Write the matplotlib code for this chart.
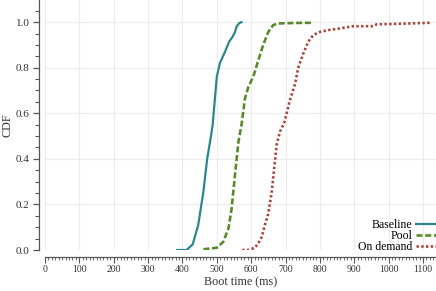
import numpy as np
import matplotlib
matplotlib.use('Agg')
import matplotlib.pyplot as plt
from matplotlib.ticker import MultipleLocator

# boot time (ms) vs CDF
baseline_ms = [385, 412, 430, 446, 461, 472, 482, 488, 500, 509, 524, 536, 546, 553, 558, 565, 572]
baseline_cdf = [0.0, 0.0, 0.025, 0.11, 0.256, 0.40, 0.49, 0.55, 0.76, 0.82, 0.87, 0.914, 0.936, 0.957, 0.982, 0.995, 1.0]

pool_ms = [461, 500, 519, 534, 543, 553, 563, 572, 582, 592, 606, 621, 635, 650, 664, 679, 720, 776]
pool_cdf = [0.003, 0.01, 0.036, 0.095, 0.18, 0.33, 0.475, 0.55, 0.665, 0.716, 0.76, 0.833, 0.90, 0.957, 0.987, 0.994, 0.996, 0.997]

demand_ms = [574, 592, 611, 621, 631, 640, 650, 660, 667, 674, 684, 696, 713, 728, 737, 752, 766,
             781, 800, 825, 849, 897, 955, 965, 1040, 1120]
demand_cdf = [0.0, 0.0, 0.01, 0.03, 0.058, 0.11, 0.16, 0.256, 0.358, 0.46, 0.52, 0.557, 0.658, 0.73, 0.80,
              0.863, 0.914, 0.943, 0.957, 0.965, 0.97, 0.982, 0.982, 0.99, 0.993, 0.997]

y_ticks = [0.0, 0.2, 0.4, 0.6, 0.8, 1.0]

plt.rcParams['font.family'] = ['Liberation Serif', 'DejaVu Serif']

fig = plt.figure(figsize=(4.36, 2.91), dpi=100)
ax = fig.add_axes([45 / 436, 41 / 291, 391 / 436, 250 / 291])

ax.plot(baseline_ms, baseline_cdf, color='#2b878d', lw=1.6, label='Baseline')
ax.plot(pool_ms, pool_cdf, color='#5b8a2b', lw=1.9, ls=(0, (2.3, 1.0)), label='Pool')
ax.plot(demand_ms, demand_cdf, color='#a8443a', lw=1.9, ls=(0, (0.9, 0.9)), label='On demand')

ax.set_xlim(0, 1138)
ax.set_ylim(0, 1.097)
ax.xaxis.set_major_locator(MultipleLocator(100))
ax.xaxis.set_minor_locator(MultipleLocator(10))
ax.yaxis.set_minor_locator(MultipleLocator(0.05))
ax.set_yticks(y_ticks)
ax.set_yticklabels(['%.1f' % v for v in y_ticks])

ax.grid(True, which='major', color='#ececec', lw=0.8)
ax.set_axisbelow(True)

for side in ['top', 'right']:
    ax.spines[side].set_visible(False)
ax.spines['left'].set_position(('outward', 4.5))
ax.spines['bottom'].set_position(('outward', 5))
for side in ['left', 'bottom']:
    ax.spines[side].set_color('#555555')
    ax.spines[side].set_linewidth(0.9)

ax.tick_params(which='both', colors='#555555', labelcolor='#333333')
ax.tick_params(axis='y', which='major', length=4.5, width=0.9, pad=2, labelsize=8)
ax.tick_params(axis='y', which='minor', length=3, width=0.8)
ax.tick_params(axis='x', which='major', length=4, width=0.8, pad=1.5, labelsize=7)
ax.tick_params(axis='x', which='minor', length=2.5, width=0.6)

ax.set_xlabel('Boot time (ms)', fontsize=8.7, color='#333333', labelpad=2)
ax.set_ylabel('CDF', fontsize=8.7, color='#333333')
ax.yaxis.set_label_coords(-0.08, 0.5)

ax.legend(loc='lower right', bbox_to_anchor=(1.0, -0.014), frameon=False, markerfirst=False,
          fontsize=8.5, handlelength=1.7, handletextpad=0.3, labelspacing=-0.08,
          borderpad=0, borderaxespad=0)

fig.savefig('out.png', dpi=100)
